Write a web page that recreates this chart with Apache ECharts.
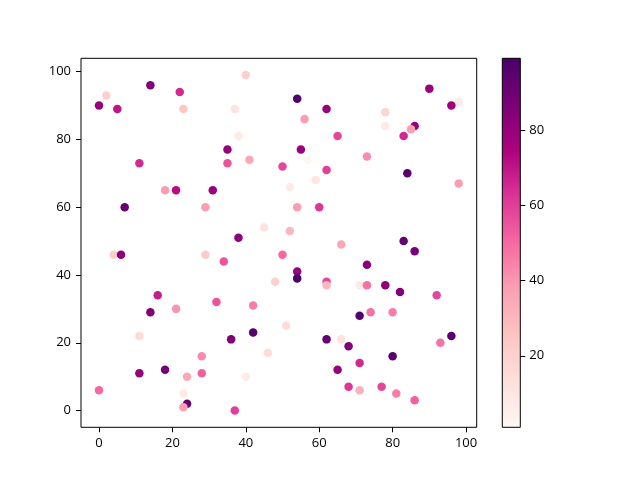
<!DOCTYPE html>
<html><head><meta charset="utf-8">
<script src="https://cdn.jsdelivr.net/npm/echarts@6/dist/echarts.min.js"></script>
<style>html,body{margin:0;padding:0;background:#fff}#c{width:640px;height:480px}</style>
</head><body><div id="c"></div>
<script>
const xTicks = [0, 20, 40, 60, 80, 100];
const yTicks = [0, 20, 40, 60, 80, 100];
const cTicks = [20, 40, 60, 80];
const cMin = 1, cMax = 99;
const xs = [40,14,2,22,0,5,23,37,38,35,35,41,11,18,21,31,7,29,45,38,
            90,54,98,96,62,56,78,78,86,85,83,65,55,57,73,50,62,84,59,52,
            98,54,60,52,66,83,4,6,29,34,48,16,32,42,14,21,11,42,36,46,
            28,11,18,24,28,40,0,23,24,23,37,86,50,73,54,54,62,62,71,73,
            78,82,92,71,74,80,51,96,93,62,66,68,80,71,65,68,71,77,81,86];
const ys = [99,96,93,94,90,89,89,89,81,77,73,74,73,65,65,65,60,60,54,51,
            95,92,91,90,89,86,88,84,84,83,81,81,77,74,75,72,71,70,68,66,
            67,60,60,53,49,50,46,46,46,44,38,34,32,31,29,30,22,23,21,17,
            16,11,12,10,11,10,6,5,2,1,0,47,46,43,41,39,38,37,37,37,
            37,35,34,28,29,29,25,22,20,21,21,19,16,14,12,7,6,7,5,3];
const cs = [20,85,20,65,80,70,25,12,8,80,55,35,65,38,72,80,92,38,12,82,
            80,97,8,78,80,38,18,8,80,38,65,58,80,1,42,58,60,95,10,8,
            38,38,62,30,35,92,20,82,22,55,20,68,55,45,85,40,15,96,85,15,
            42,80,88,35,52,8,50,8,92,38,60,88,50,82,80,99,58,30,8,48,
            82,85,58,96,48,45,15,95,48,92,12,85,95,65,80,62,32,58,45,52];
const rdpu = ['#fff7f3','#fde0dd','#fcc5c0','#fa9fb5','#f768a1','#dd3497','#ae017e','#7a0177','#49006a'];

const points = xs.map((x, i) => [x, ys[i], cs[i]]);
const font = 'Open Sans';
const fs = 13;
const chart = echarts.init(document.getElementById('c'));
chart.setOption({
  animation: false,
  backgroundColor: '#fff',
  grid: [
    {left: 81, top: 58.3, width: 395.7, height: 369, show: true, borderColor: '#000', borderWidth: 1, backgroundColor: 'transparent'},
    {left: 502.3, top: 58.3, width: 18, height: 369, show: true, borderColor: '#000', borderWidth: 1,
     backgroundColor: {type: 'linear', x: 0, y: 1, x2: 0, y2: 0,
       colorStops: rdpu.map((c, i) => ({offset: i / (rdpu.length - 1), color: c}))}}
  ],
  xAxis: [
    {type: 'value', gridIndex: 0, min: -4.9, max: 102.9, splitLine: {show: false},
     axisLine: {show: false, onZero: false},
     axisTick: {show: true, inside: false, length: 5, lineStyle: {color: '#000'}, customValues: xTicks},
     axisLabel: {color: '#000', fontFamily: font, fontSize: fs, margin: 9, customValues: xTicks}},
    {type: 'value', gridIndex: 1, min: 0, max: 1, show: false}
  ],
  yAxis: [
    {type: 'value', gridIndex: 0, min: -4.95, max: 103.95, splitLine: {show: false},
     axisLine: {show: false, onZero: false},
     axisTick: {show: true, inside: false, length: 5, lineStyle: {color: '#000'}, customValues: yTicks},
     axisLabel: {color: '#000', fontFamily: font, fontSize: fs, margin: 10, customValues: yTicks}},
    {type: 'value', gridIndex: 1, position: 'right', min: cMin, max: cMax, splitLine: {show: false},
     axisLine: {show: false, onZero: false},
     axisTick: {show: true, inside: false, length: 5, lineStyle: {color: '#000'}, customValues: cTicks},
     axisLabel: {color: '#000', fontFamily: font, fontSize: fs, margin: 9, customValues: cTicks}}
  ],
  visualMap: {show: false, type: 'continuous', min: cMin, max: cMax, dimension: 2, seriesIndex: 0,
    inRange: {color: rdpu}},
  series: [{type: 'scatter', xAxisIndex: 0, yAxisIndex: 0, data: points, symbolSize: 8.5,
    itemStyle: {opacity: 1}}]
});
</script></body></html>
